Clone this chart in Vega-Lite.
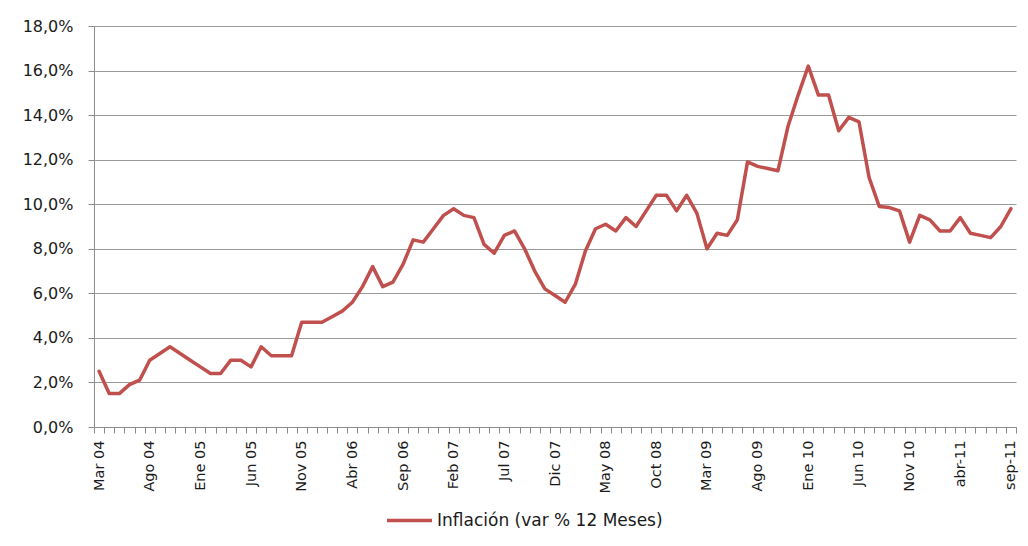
{
  "$schema": "https://vega.github.io/schema/vega-lite/v6.json",
  "width": 922,
  "height": 401,
  "autosize": {"type": "none"},
  "padding": {"left": 94, "top": 26, "right": 12, "bottom": 119},
  "background": "white",
  "config": {
    "view": {"stroke": null},
    "font": "DejaVu Sans",
    "axis": {"labelFont": "DejaVu Sans", "labelColor": "#1a1a1a", "domainColor": "#8c8c8c", "tickColor": "#8c8c8c", "gridColor": "#9a9a9a", "title": null}
  },
  "data": {"values": [
    {"i":0,"v":2.5,"serie":"Inflación (var % 12 Meses)"},
    {"i":1,"v":1.5,"serie":"Inflación (var % 12 Meses)"},
    {"i":2,"v":1.5,"serie":"Inflación (var % 12 Meses)"},
    {"i":3,"v":1.9,"serie":"Inflación (var % 12 Meses)"},
    {"i":4,"v":2.1,"serie":"Inflación (var % 12 Meses)"},
    {"i":5,"v":3.0,"serie":"Inflación (var % 12 Meses)"},
    {"i":6,"v":3.3,"serie":"Inflación (var % 12 Meses)"},
    {"i":7,"v":3.6,"serie":"Inflación (var % 12 Meses)"},
    {"i":8,"v":3.3,"serie":"Inflación (var % 12 Meses)"},
    {"i":9,"v":3.0,"serie":"Inflación (var % 12 Meses)"},
    {"i":10,"v":2.7,"serie":"Inflación (var % 12 Meses)"},
    {"i":11,"v":2.4,"serie":"Inflación (var % 12 Meses)"},
    {"i":12,"v":2.4,"serie":"Inflación (var % 12 Meses)"},
    {"i":13,"v":3.0,"serie":"Inflación (var % 12 Meses)"},
    {"i":14,"v":3.0,"serie":"Inflación (var % 12 Meses)"},
    {"i":15,"v":2.7,"serie":"Inflación (var % 12 Meses)"},
    {"i":16,"v":3.6,"serie":"Inflación (var % 12 Meses)"},
    {"i":17,"v":3.2,"serie":"Inflación (var % 12 Meses)"},
    {"i":18,"v":3.2,"serie":"Inflación (var % 12 Meses)"},
    {"i":19,"v":3.2,"serie":"Inflación (var % 12 Meses)"},
    {"i":20,"v":4.7,"serie":"Inflación (var % 12 Meses)"},
    {"i":21,"v":4.7,"serie":"Inflación (var % 12 Meses)"},
    {"i":22,"v":4.7,"serie":"Inflación (var % 12 Meses)"},
    {"i":23,"v":4.95,"serie":"Inflación (var % 12 Meses)"},
    {"i":24,"v":5.2,"serie":"Inflación (var % 12 Meses)"},
    {"i":25,"v":5.6,"serie":"Inflación (var % 12 Meses)"},
    {"i":26,"v":6.3,"serie":"Inflación (var % 12 Meses)"},
    {"i":27,"v":7.2,"serie":"Inflación (var % 12 Meses)"},
    {"i":28,"v":6.3,"serie":"Inflación (var % 12 Meses)"},
    {"i":29,"v":6.5,"serie":"Inflación (var % 12 Meses)"},
    {"i":30,"v":7.3,"serie":"Inflación (var % 12 Meses)"},
    {"i":31,"v":8.4,"serie":"Inflación (var % 12 Meses)"},
    {"i":32,"v":8.3,"serie":"Inflación (var % 12 Meses)"},
    {"i":33,"v":8.9,"serie":"Inflación (var % 12 Meses)"},
    {"i":34,"v":9.5,"serie":"Inflación (var % 12 Meses)"},
    {"i":35,"v":9.8,"serie":"Inflación (var % 12 Meses)"},
    {"i":36,"v":9.5,"serie":"Inflación (var % 12 Meses)"},
    {"i":37,"v":9.4,"serie":"Inflación (var % 12 Meses)"},
    {"i":38,"v":8.2,"serie":"Inflación (var % 12 Meses)"},
    {"i":39,"v":7.8,"serie":"Inflación (var % 12 Meses)"},
    {"i":40,"v":8.6,"serie":"Inflación (var % 12 Meses)"},
    {"i":41,"v":8.8,"serie":"Inflación (var % 12 Meses)"},
    {"i":42,"v":8.0,"serie":"Inflación (var % 12 Meses)"},
    {"i":43,"v":7.0,"serie":"Inflación (var % 12 Meses)"},
    {"i":44,"v":6.2,"serie":"Inflación (var % 12 Meses)"},
    {"i":45,"v":5.9,"serie":"Inflación (var % 12 Meses)"},
    {"i":46,"v":5.6,"serie":"Inflación (var % 12 Meses)"},
    {"i":47,"v":6.4,"serie":"Inflación (var % 12 Meses)"},
    {"i":48,"v":7.9,"serie":"Inflación (var % 12 Meses)"},
    {"i":49,"v":8.9,"serie":"Inflación (var % 12 Meses)"},
    {"i":50,"v":9.1,"serie":"Inflación (var % 12 Meses)"},
    {"i":51,"v":8.8,"serie":"Inflación (var % 12 Meses)"},
    {"i":52,"v":9.4,"serie":"Inflación (var % 12 Meses)"},
    {"i":53,"v":9.0,"serie":"Inflación (var % 12 Meses)"},
    {"i":54,"v":9.7,"serie":"Inflación (var % 12 Meses)"},
    {"i":55,"v":10.4,"serie":"Inflación (var % 12 Meses)"},
    {"i":56,"v":10.4,"serie":"Inflación (var % 12 Meses)"},
    {"i":57,"v":9.7,"serie":"Inflación (var % 12 Meses)"},
    {"i":58,"v":10.4,"serie":"Inflación (var % 12 Meses)"},
    {"i":59,"v":9.6,"serie":"Inflación (var % 12 Meses)"},
    {"i":60,"v":8.0,"serie":"Inflación (var % 12 Meses)"},
    {"i":61,"v":8.7,"serie":"Inflación (var % 12 Meses)"},
    {"i":62,"v":8.6,"serie":"Inflación (var % 12 Meses)"},
    {"i":63,"v":9.3,"serie":"Inflación (var % 12 Meses)"},
    {"i":64,"v":11.9,"serie":"Inflación (var % 12 Meses)"},
    {"i":65,"v":11.7,"serie":"Inflación (var % 12 Meses)"},
    {"i":66,"v":11.6,"serie":"Inflación (var % 12 Meses)"},
    {"i":67,"v":11.5,"serie":"Inflación (var % 12 Meses)"},
    {"i":68,"v":13.5,"serie":"Inflación (var % 12 Meses)"},
    {"i":69,"v":14.9,"serie":"Inflación (var % 12 Meses)"},
    {"i":70,"v":16.2,"serie":"Inflación (var % 12 Meses)"},
    {"i":71,"v":14.9,"serie":"Inflación (var % 12 Meses)"},
    {"i":72,"v":14.9,"serie":"Inflación (var % 12 Meses)"},
    {"i":73,"v":13.3,"serie":"Inflación (var % 12 Meses)"},
    {"i":74,"v":13.9,"serie":"Inflación (var % 12 Meses)"},
    {"i":75,"v":13.7,"serie":"Inflación (var % 12 Meses)"},
    {"i":76,"v":11.2,"serie":"Inflación (var % 12 Meses)"},
    {"i":77,"v":9.9,"serie":"Inflación (var % 12 Meses)"},
    {"i":78,"v":9.85,"serie":"Inflación (var % 12 Meses)"},
    {"i":79,"v":9.7,"serie":"Inflación (var % 12 Meses)"},
    {"i":80,"v":8.3,"serie":"Inflación (var % 12 Meses)"},
    {"i":81,"v":9.5,"serie":"Inflación (var % 12 Meses)"},
    {"i":82,"v":9.3,"serie":"Inflación (var % 12 Meses)"},
    {"i":83,"v":8.8,"serie":"Inflación (var % 12 Meses)"},
    {"i":84,"v":8.8,"serie":"Inflación (var % 12 Meses)"},
    {"i":85,"v":9.4,"serie":"Inflación (var % 12 Meses)"},
    {"i":86,"v":8.7,"serie":"Inflación (var % 12 Meses)"},
    {"i":87,"v":8.6,"serie":"Inflación (var % 12 Meses)"},
    {"i":88,"v":8.5,"serie":"Inflación (var % 12 Meses)"},
    {"i":89,"v":9.0,"serie":"Inflación (var % 12 Meses)"},
    {"i":90,"v":9.8,"serie":"Inflación (var % 12 Meses)"}
  ]},
  "layer": [
    {
      "mark": {"type": "line", "strokeWidth": 3.5, "strokeJoin": "round", "strokeCap": "round"},
      "encoding": {
        "x": {"field": "i", "type": "quantitative",
          "scale": {"domain": [-0.5, 90.5], "nice": false, "zero": false},
          "axis": {"orient": "bottom", "values": [-0.5,0.5,1.5,2.5,3.5,4.5,5.5,6.5,7.5,8.5,9.5,10.5,11.5,12.5,13.5,14.5,15.5,16.5,17.5,18.5,19.5,20.5,21.5,22.5,23.5,24.5,25.5,26.5,27.5,28.5,29.5,30.5,31.5,32.5,33.5,34.5,35.5,36.5,37.5,38.5,39.5,40.5,41.5,42.5,43.5,44.5,45.5,46.5,47.5,48.5,49.5,50.5,51.5,52.5,53.5,54.5,55.5,56.5,57.5,58.5,59.5,60.5,61.5,62.5,63.5,64.5,65.5,66.5,67.5,68.5,69.5,70.5,71.5,72.5,73.5,74.5,75.5,76.5,77.5,78.5,79.5,80.5,81.5,82.5,83.5,84.5,85.5,86.5,87.5,88.5,89.5,90.5],
            "labels": false, "ticks": true, "tickSize": 6, "domain": true, "grid": false}},
        "y": {"field": "v", "type": "quantitative",
          "scale": {"domain": [0, 18], "nice": false},
          "axis": {"values": [0,2,4,6,8,10,12,14,16,18], "grid": true, "tickSize": 6, "labelPadding": 15, "labelFontSize": 16,
            "labelExpr": "replace(format(datum.value, '.1f'), '.', ',') + '%'"}},
        "color": {"field": "serie", "type": "nominal",
          "scale": {"range": ["#c0504d"]},
          "legend": {"orient": "none", "legendX": 291, "legendY": 470, "title": null, "padding": 0,
            "symbolType": "stroke", "symbolSize": 2025, "symbolStrokeWidth": 3.5, "symbolStrokeColor": "#c0504d",
            "labelFont": "DejaVu Sans", "labelFontSize": 17, "labelColor": "#1a1a1a", "labelOffset": 3, "labelLimit": 500}}
      }
    },
    {
      "mark": {"type": "point", "opacity": 0},
      "encoding": {
        "x": {"field": "i", "type": "quantitative",
          "axis": {"orient": "bottom", "values": [0,5,10,15,20,25,30,35,40,45,50,55,60,65,70,75,80,85,90],
            "labelExpr": "['Mar 04','Ago 04','Ene 05','Jun 05','Nov 05','Abr 06','Sep 06','Feb 07','Jul 07','Dic 07','May 08','Oct 08','Mar 09','Ago 09','Ene 10','Jun 10','Nov 10','abr-11','sep-11'][round(datum.value / 5)]",
            "labelAngle": -90, "labelAlign": "right", "labelBaseline": "middle", "labelFontSize": 14.5,
            "ticks": false, "tickSize": 0, "labelPadding": 13, "domain": false, "grid": false}},
        "y": {"field": "v", "type": "quantitative"}
      }
    }
  ],
  "resolve": {"axis": {"x": "independent"}}
}
